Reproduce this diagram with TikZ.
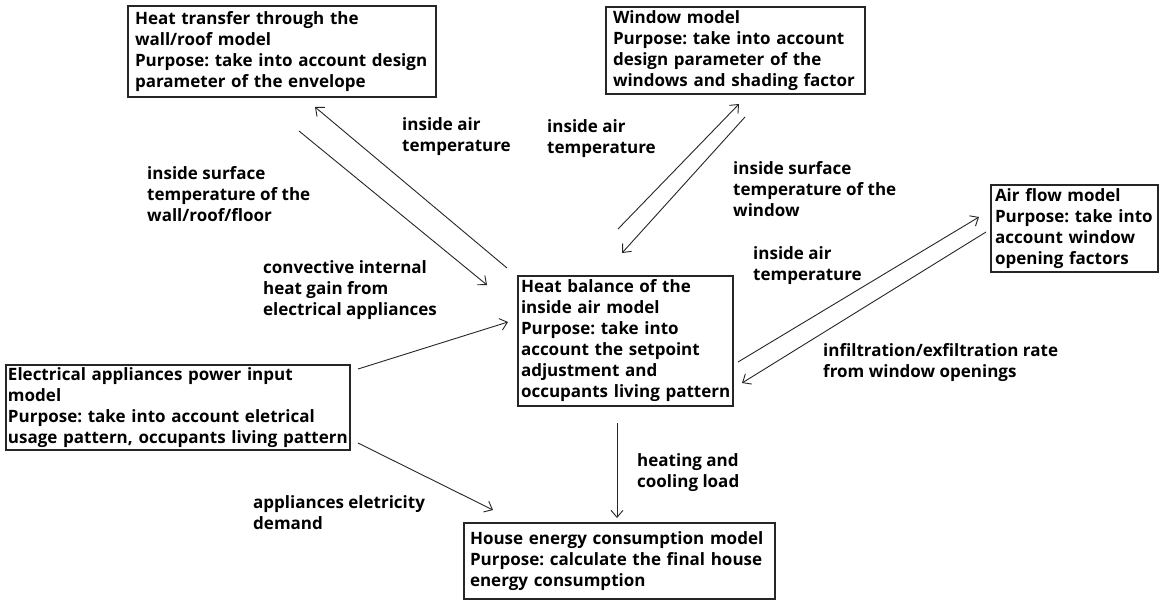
\documentclass[tikz,border=0pt]{standalone}
\usepackage{fontspec}
\setmainfont{Open Sans}
\usetikzlibrary{arrows.meta}
\frenchspacing
\newcommand\ol[1]{\mbox{#1}}
\begin{document}
\begin{tikzpicture}[x=1pt,y=-1pt,
  font=\fontsize{17}{21}\selectfont\bfseries\frenchspacing,
  modelbox/.style={draw=black!85,line width=1.3pt,rectangle,align=left,inner xsep=7pt,inner ysep=0pt,anchor=center},
  lbl/.style={align=left,inner sep=0pt,anchor=west},
  flow/.style={draw=black!85,line width=0.9pt,-{Straight Barb[length=7pt,width=12pt,line width=0.9pt]}}]
\useasboundingbox[fill=white] (0,0) rectangle (1165,606);
% boxes
\node[modelbox,text width=294pt,minimum width=308pt,minimum height=91pt] (wall) at (282,51.5)
  {\ol{Heat transfer through the}\\\ol{wall/roof model}\\\ol{Purpose: take into account design}\\\ol{parameter of the envelope}};
\node[modelbox,text width=245pt,minimum width=259pt,minimum height=87pt] (window) at (735.5,50.5)
  {\ol{Window model}\\\ol{Purpose: take into account}\\\ol{design parameter of the}\\\ol{windows and shading factor}};
\node[modelbox,inner xsep=4pt,text width=159pt,minimum width=167pt,minimum height=87pt] (air) at (1074.5,228.5)
  {\ol{Air flow model}\\\ol{Purpose: take into}\\\ol{account window}\\\ol{opening factors}};
\node[modelbox,inner xsep=3pt,text width=209pt,minimum width=215pt,minimum height=130pt] (heat) at (625.5,341)
  {\ol{Heat balance of the}\\\ol{inside air model}\\\ol{Purpose: take into}\\\ol{account the setpoint}\\\ol{adjustment and}\\\ol{occupants living pattern}};
\node[modelbox,inner xsep=2pt,text width=340pt,minimum width=344pt,minimum height=85pt] (elec) at (178,407.5)
  {\ol{Electrical appliances power input}\\\ol{model}\\\ol{Purpose: take into account eletrical}\\\ol{usage pattern, occupants living pattern}};
\node[modelbox,inner xsep=6pt,text width=299pt,minimum width=311pt,minimum height=76pt] (house) at (619.5,561)
  {\ol{House energy consumption model}\\\ol{Purpose: calculate the final house}\\\ol{energy consumption}};
% labels
\node[lbl] (l1) at (402,137) {inside air\\temperature};
\node[lbl] (l2) at (147,194) {inside surface\\temperature of the\\wall/roof/floor};
\node[lbl] (l3) at (547,139) {inside air\\temperature};
\node[lbl] (l4) at (733,189) {inside surface\\temperature of the\\window};
\node[lbl] (l5) at (753,265.5) {inside air\\temperature};
\node[lbl] (l6) at (263,290) {convective internal\\heat gain from\\electrical appliances};
\node[lbl] (l7) at (823,362.5) {infiltration/exfiltration rate\\from window openings};
\node[lbl] (l8) at (637,473) {heating and\\cooling load};
\node[lbl] (l9) at (253,512.5) {appliances eletricity\\demand};
% connector end points
\coordinate (a1s) at (507,268); \coordinate (a1e) at (315,107);
\coordinate (a2s) at (299,131); \coordinate (a2e) at (487,285);
\coordinate (a3s) at (618,229); \coordinate (a3e) at (739,104);
\coordinate (a4s) at (745,117); \coordinate (a4e) at (622,253);
\coordinate (a5s) at (738,362); \coordinate (a5e) at (979,217);
\coordinate (a6s) at (986,232); \coordinate (a6e) at (742,383);
\coordinate (a7s) at (358,369); \coordinate (a7e) at (508,322);
\coordinate (a8s) at (358,443); \coordinate (a8e) at (493,510);
\coordinate (a9s) at (617,423); \coordinate (a9e) at (617,518);
\draw[flow] (a1s) -- (a1e);
\draw[flow] (a2s) -- (a2e);
\draw[flow] (a3s) -- (a3e);
\draw[flow] (a4s) -- (a4e);
\draw[flow] (a5s) -- (a5e);
\draw[flow] (a6s) -- (a6e);
\draw[flow] (a7s) -- (a7e);
\draw[flow] (a8s) -- (a8e);
\draw[flow] (a9s) -- (a9e);
\end{tikzpicture}
\end{document}
